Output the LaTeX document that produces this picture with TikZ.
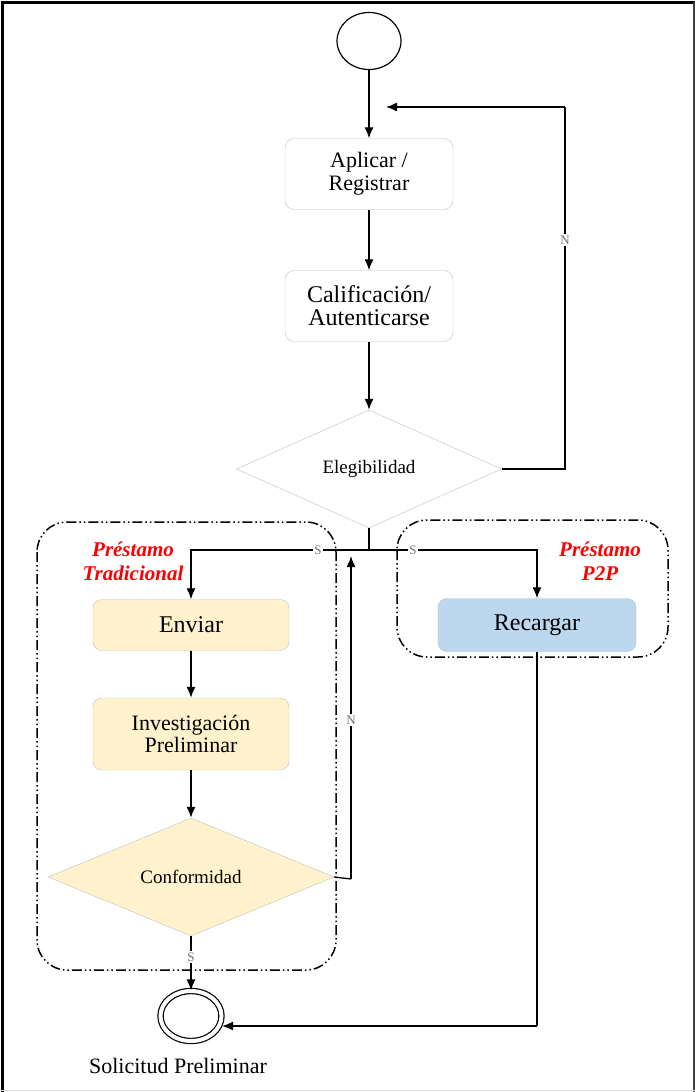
\documentclass[tikz,border=0pt]{standalone}
\usepackage{fontspec}
\setmainfont{Liberation Serif}
\usetikzlibrary{arrows.meta,shapes.geometric}
\definecolor{boxline}{HTML}{C0C0C0}
\definecolor{cream}{HTML}{FFF2CC}
\definecolor{lblue}{HTML}{BDD7EE}
\begin{document}
\begin{tikzpicture}[x=1pt, y=-1pt,
  arr/.style={-{Latex[length=11pt,width=9pt]}, line width=1.3pt},
  ln/.style={line width=1.3pt},
  act/.style={draw=boxline, rounded corners=9pt, minimum width=168pt, minimum height=71pt, align=center, inner sep=0pt},
  dec/.style={diamond, draw=boxline, inner sep=0pt, aspect=2.2},
  grp/.style={line width=1.5pt, rounded corners=30pt, dash pattern=on 10pt off 3pt on 1.5pt off 3pt on 1.5pt off 3pt},
  lbl/.style={fill=white, text=black!55, font=\fontsize{13}{13}\selectfont, inner sep=1.5pt},
  grplbl/.style={text=red, align=center, font=\fontsize{21}{24}\selectfont\bfseries\itshape}]
\useasboundingbox (0,0) rectangle (695,1092);
% frame
\draw[line width=3pt] (2.8,1092) -- (2.8,2.8) -- (695,2.8);
\draw[line width=2pt, black!75] (693.5,2) -- (693.5,1092);
\draw[black!12, line width=1.5pt] (0,1090.5) -- (695,1090.5);
% groups
\draw[grp] (37,522) rectangle (336,970);
\draw[grp] (397,520) rectangle (668,657);
\node[grplbl] (tradlbl) at (133,561) {Préstamo\\Tradicional};
\node[grplbl] (p2plbl) at (600,561) {Préstamo\\P2P};
% nodes
\node[ellipse, draw, line width=1.2pt, minimum width=64pt, minimum height=57pt, inner sep=0pt] (start) at (369,41) {};
\node[act, font=\fontsize{22}{23}\selectfont] (apl) at (369,174) {Aplicar /\\Registrar};
\node[act, font=\fontsize{24}{23}\selectfont] (cal) at (369,306) {Calificación/\\Autenticarse};
\node[dec, fill=white, minimum width=265pt, minimum height=118pt, font=\fontsize{19}{20}\selectfont] (elig) at (369,469) {Elegibilidad};
\node[act, fill=cream, minimum width=196pt, minimum height=51pt, font=\fontsize{24}{24}\selectfont] (env) at (191,625) {Enviar};
\node[act, fill=cream, minimum width=196pt, minimum height=72pt, font=\fontsize{22}{22}\selectfont] (inv) at (191,734) {Investigación\\Preliminar};
\node[dec, fill=cream, minimum width=286pt, minimum height=118pt, font=\fontsize{19}{20}\selectfont] (conf) at (191,877) {Conformidad};
\node[act, fill=lblue, minimum width=198pt, minimum height=53pt, font=\fontsize{24}{24}\selectfont] (rec) at (537,625) {Recargar};
\node[ellipse, draw, line width=1.2pt, double, double distance=4pt, minimum width=61pt, minimum height=50pt, inner sep=0pt] (fin) at (191,1016) {};
\node[font=\fontsize{22}{22}\selectfont] (finlbl) at (178,1066) {Solicitud Preliminar};
% connectors
\coordinate (nret) at (386,107);
\coordinate (nturn) at (565,107);
\coordinate (split) at (369,550);
\coordinate (nin) at (351,556);
\coordinate (cturn) at (351,879);
\coordinate (rturn) at (537,1026);
\draw[arr] (start) -- (apl);
\draw[arr] (apl) -- (cal);
\draw[arr] (cal) -- (elig);
\draw[ln] (elig.east) -| (nturn);
\draw[arr] (nturn) -- (nret);
\draw[ln] (elig.south) -- (split);
\draw[arr] (split) -| (env.north);
\draw[arr] (split) -| (rec.north);
\draw[arr] (env) -- (inv);
\draw[arr] (inv) -- (conf);
\draw[ln] (conf.east) -- (cturn);
\draw[arr] (cturn) -- (nin);
\draw[arr] (conf.south) -- (fin.north);
\draw[ln] (rec.south) -- (rturn);
\draw[arr] (rturn) -- (fin.east |- rturn);
% branch labels
\node[lbl] (n1) at (565,240) {N};
\node[lbl] (s1) at (318,550) {S};
\node[lbl] (s2) at (413,550) {S};
\node[lbl] (n2) at (351,720) {N};
\node[lbl] (s3) at (191,957) {S};
\end{tikzpicture}
\end{document}
